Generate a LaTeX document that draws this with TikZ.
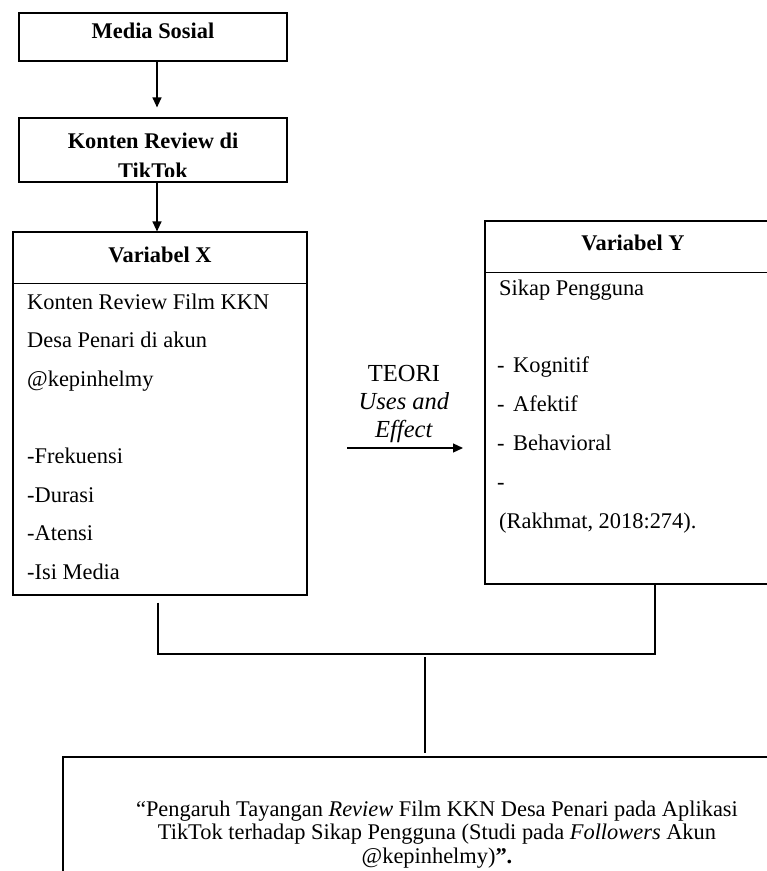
\documentclass[tikz,border=0pt]{standalone}
\usepackage{fontspec}
\setmainfont{Liberation Serif}
\usetikzlibrary{arrows.meta}
\tikzset{
  box/.style={draw, line width=1.2pt, inner sep=0pt},
  head/.style={font=\fontsize{22.4}{26}\selectfont\bfseries, inner sep=0pt, anchor=base},
  item/.style={font=\fontsize{22.4}{26}\selectfont, inner sep=0pt, anchor=base west},
  wire/.style={line width=1.2pt},
  flow/.style={wire, -{Triangle[length=10pt,width=9pt]}}
}
\begin{document}
\begin{tikzpicture}[x=1pt, y=-1pt]
\useasboundingbox (0,0) rectangle (767,871);
\clip (0,0) rectangle (767,871);
% the two boxes on top
\node[box, minimum width=268pt, minimum height=48pt] (media) at (153,37) {};
\node[head] (medialabel) at (153,38) {Media Sosial};
\node[box, minimum width=268pt, minimum height=64pt] (konten) at (153,150) {};
\begin{scope}
  \clip (19,118) rectangle (287,176);
  \node[head] (kontenlabel) at (153,148) {Konten Review di};
  \node[head] (tiktoklabel) at (153,178) {TikTok};
\end{scope}
% variabel X
\node[box, minimum width=294pt, minimum height=363pt] (varx) at (160,413.5) {};
\draw[wire] ([yshift=-52pt]varx.north west) -- ([yshift=-52pt]varx.north east);
\node[head] (varxhead) at (160,262) {Variabel X};
\foreach \y/\t [count=\i] in {309/Konten Review Film KKN, 347.6/Desa Penari di akun,
    386.2/@kepinhelmy, 463.4/-Frekuensi, 502/-Durasi, 540.6/-Atensi, 579.2/-Isi Media}
  \node[item] (xitem\i) at (27,\y) {\t};
\draw[flow] ([xshift=4pt]media.south) -- ([xshift=4pt,yshift=10pt]konten.north);
\draw[flow] ([xshift=4pt]konten.south) -- ([xshift=-3pt]varx.north);
% variabel Y
\node[box, minimum width=296pt, minimum height=363pt] (vary) at (633,402.5) {};
\draw[wire] ([yshift=-52pt]vary.north west) -- ([yshift=-52pt]vary.north east);
\node[head] (varyhead) at (633,250) {Variabel Y};
\node[item] (sikap) at (499,295) {Sikap Pengguna};
\foreach \y/\t [count=\i] in {372.7/Kognitif, 411.5/Afektif, 450.3/Behavioral, 489.2/}
  \node[item] (yitem\i) at (497,\y) {\makebox[16pt][l]{-}\t};
\node[item] (rakhmat) at (499,528) {(Rakhmat, 2018:274).};
% teori
\node[font=\fontsize{24.5}{28}\selectfont, align=center, inner sep=0pt, anchor=north]
  (teori) at (404,365.5) {TEORI\\\textit{Uses and}\\\textit{Effect}};
\coordinate (teoritail) at (347,448);
\coordinate (teorihead) at (463,448);
\draw[flow] (teoritail) -- (teorihead);
% joining lines
\coordinate (xfoot) at ([shift={(-2pt,-7pt)}]varx.south);
\coordinate (yfoot) at ([xshift=22pt]vary.south);
\coordinate (joinl) at (158,654);
\coordinate (joinr) at (655,654);
\draw[wire] (xfoot) -- (joinl) -- (joinr) -- (yfoot);
\coordinate (midtop) at (425,657);
\coordinate (midfoot) at (425,753);
\draw[wire] (midtop) -- (midfoot);
% judul
\node[box, minimum width=748pt, minimum height=150pt] (judul) at (437,832) {};
\node[font=\fontsize{22.4}{23.5}\selectfont, align=center, inner sep=0pt, anchor=north]
  (judultext) at (437,800.5) {“Pengaruh Tayangan \textit{Review} Film KKN Desa Penari pada Aplikasi\\
  TikTok terhadap Sikap Pengguna (Studi pada \textit{Followers} Akun\\
  @kepinhelmy)\textbf{”.}};
\end{tikzpicture}
\end{document}
